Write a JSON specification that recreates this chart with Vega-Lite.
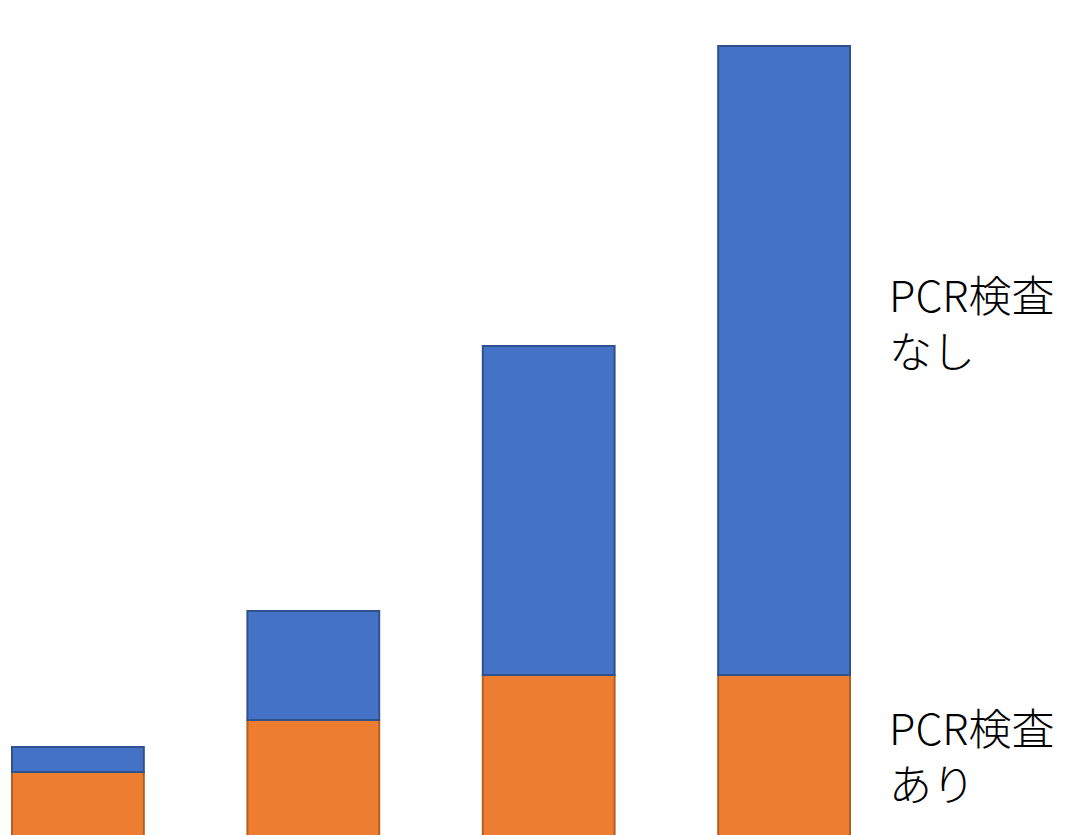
{
  "$schema": "https://vega.github.io/schema/vega-lite/v6.json",
  "width": 1087,
  "height": 835,
  "padding": 0,
  "autosize": {"type": "none"},
  "background": "white",
  "config": {"view": {"stroke": null}},
  "data": {
    "values": [
      {"bar": "1", "series": "PCR検査 あり", "v": 67},
      {"bar": "1", "series": "PCR検査 なし", "v": 25},
      {"bar": "2", "series": "PCR検査 あり", "v": 119},
      {"bar": "2", "series": "PCR検査 なし", "v": 109},
      {"bar": "3", "series": "PCR検査 あり", "v": 164},
      {"bar": "3", "series": "PCR検査 なし", "v": 329},
      {"bar": "4", "series": "PCR検査 あり", "v": 164},
      {"bar": "4", "series": "PCR検査 なし", "v": 629}
    ]
  },
  "layer": [
    {
      "mark": {"type": "bar", "strokeWidth": 2, "clip": true},
      "encoding": {
        "x": {"field": "bar", "type": "nominal", "axis": null,
              "scale": {"type": "band", "range": [12, 850], "paddingInner": 0.44, "paddingOuter": 0}},
        "y": {"field": "v", "type": "quantitative", "stack": "zero", "axis": null,
              "scale": {"domain": [4, 839], "nice": false, "zero": false}},
        "color": {"field": "series", "type": "nominal", "legend": null,
                  "scale": {"domain": ["PCR検査 あり", "PCR検査 なし"], "range": ["#ED7D31", "#4472C4"]}},
        "stroke": {"field": "series", "type": "nominal", "legend": null,
                   "scale": {"domain": ["PCR検査 あり", "PCR検査 なし"], "range": ["#B35F24", "#2F528F"]}},
        "order": {"field": "series", "sort": "ascending"}
      }
    },
    {
      "transform": [
        {"filter": "datum.bar == '4'"},
        {"stack": "v", "groupby": ["bar"], "sort": [{"field": "series"}], "as": ["v0", "v1"]},
        {"filter": "datum.series == 'PCR検査 なし'"}
      ],
      "mark": {"type": "text", "align": "left", "baseline": "middle", "font": "Noto Sans CJK JP",
               "fontSize": 43, "fontWeight": 300, "lineBreak": " ", "lineHeight": 56, "color": "#000000", "dx": 105, "dy": 253},
      "encoding": {
        "x": {"field": "bar", "type": "nominal"},
        "y": {"field": "v1", "type": "quantitative"},
        "text": {"field": "series"}
      }
    },
    {
      "transform": [
        {"filter": "datum.bar == '4'"},
        {"stack": "v", "groupby": ["bar"], "sort": [{"field": "series"}], "as": ["v0", "v1"]},
        {"filter": "datum.series == 'PCR検査 あり'"}
      ],
      "mark": {"type": "text", "align": "left", "baseline": "middle", "font": "Noto Sans CJK JP",
               "fontSize": 43, "fontWeight": 300, "lineBreak": " ", "lineHeight": 56, "color": "#000000", "dx": 105, "dy": 57},
      "encoding": {
        "x": {"field": "bar", "type": "nominal"},
        "y": {"field": "v1", "type": "quantitative"},
        "text": {"field": "series"}
      }
    }
  ]
}
